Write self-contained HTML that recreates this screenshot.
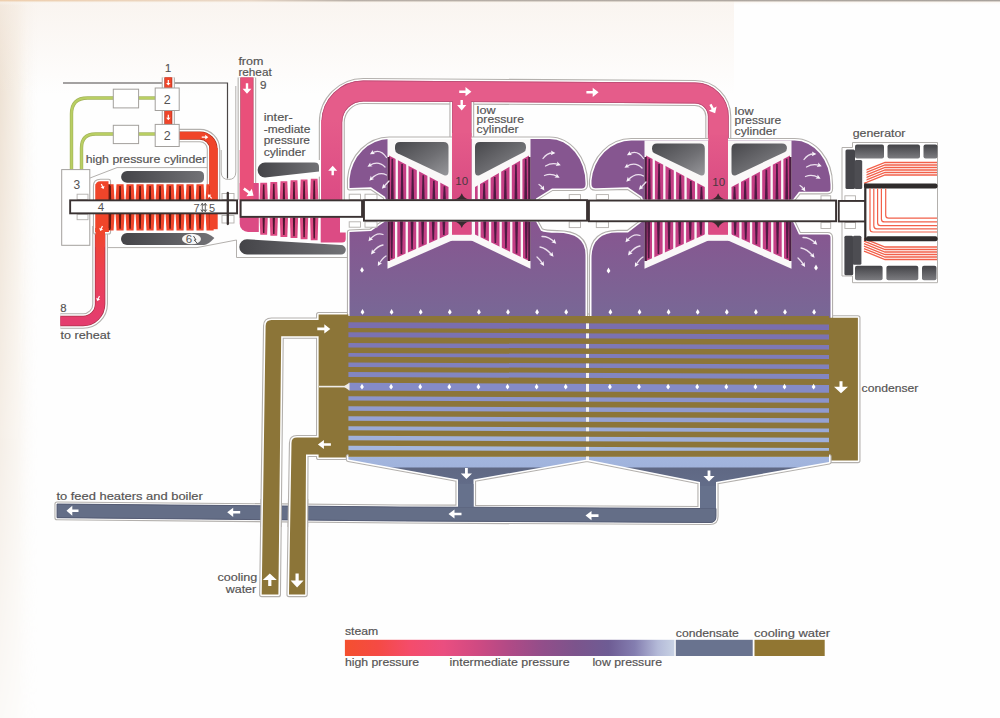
<!DOCTYPE html>
<html><head><meta charset="utf-8"><style>
html,body{margin:0;padding:0;background:#fefefe;}
body{width:1000px;height:718px;overflow:hidden;font-family:"Liberation Sans",sans-serif;}
svg{display:block;}
</style></head><body>
<svg width="1000" height="718" viewBox="0 0 1000 718" font-family="Liberation Sans, sans-serif">
<defs>
 <linearGradient id="bgL" x1="0" x2="1" y1="0" y2="0">
  <stop offset="0" stop-color="#ecdfd0"/><stop offset="0.45" stop-color="#f6efe6"/><stop offset="1" stop-color="#fefefe" stop-opacity="0"/>
 </linearGradient>
 <linearGradient id="bgLfade" x1="0" x2="0" y1="0" y2="1">
  <stop offset="0" stop-color="#fff" stop-opacity="1"/><stop offset="0.5" stop-color="#fff" stop-opacity="0.6"/><stop offset="1" stop-color="#fff" stop-opacity="0.15"/>
 </linearGradient>
 <mask id="mL"><rect x="0" y="0" width="40" height="718" fill="url(#bgLfade)"/></mask>
 <linearGradient id="bgT" x1="0" x2="0" y1="0" y2="1">
  <stop offset="0" stop-color="#f3e6d6"/><stop offset="1" stop-color="#fefefe" stop-opacity="0"/>
 </linearGradient>
 <linearGradient id="lpLow" gradientUnits="userSpaceOnUse" x1="0" x2="0" y1="228" y2="318">
  <stop offset="0" stop-color="#875690"/><stop offset="1" stop-color="#786896"/>
 </linearGradient>
 <linearGradient id="grey" x1="0" x2="1" y1="0" y2="1">
  <stop offset="0" stop-color="#47474b"/><stop offset="0.55" stop-color="#6e6e72"/><stop offset="1" stop-color="#97979b"/>
 </linearGradient>
 <linearGradient id="greyv" x1="0" x2="0" y1="0" y2="1">
  <stop offset="0" stop-color="#434347"/><stop offset="1" stop-color="#7c7c80"/>
 </linearGradient>
 <linearGradient id="greyh" x1="0" x2="1" y1="0" y2="0">
  <stop offset="0" stop-color="#444448"/><stop offset="1" stop-color="#727276"/>
 </linearGradient>
 <linearGradient id="redpink" gradientUnits="userSpaceOnUse" x1="0" x2="0" y1="230" y2="320">
  <stop offset="0" stop-color="#f0452a"/><stop offset="0.5" stop-color="#ec3f55"/><stop offset="1" stop-color="#e43d6e"/>
 </linearGradient>
 <linearGradient id="ipg" gradientUnits="userSpaceOnUse" x1="0" x2="0" y1="120" y2="200">
  <stop offset="0" stop-color="#e55c8a"/><stop offset="1" stop-color="#dc4b84"/>
 </linearGradient>
 <linearGradient id="chg" gradientUnits="userSpaceOnUse" x1="0" x2="0" y1="130" y2="200">
  <stop offset="0" stop-color="#e55c8a"/><stop offset="1" stop-color="#d84a82"/>
 </linearGradient>
 <linearGradient id="warm" x1="0" x2="0" y1="0" y2="1">
  <stop offset="0" stop-color="#f7eee6" stop-opacity="0.6"/><stop offset="1" stop-color="#f7eee6" stop-opacity="0"/>
 </linearGradient>
 <linearGradient id="topline" x1="0" x2="1" y1="0" y2="0">
  <stop offset="0" stop-color="#efcfae"/><stop offset="0.25" stop-color="#e9d8c8"/><stop offset="0.35" stop-color="#b9b0a8"/><stop offset="1" stop-color="#a8a29c"/>
 </linearGradient>
 <linearGradient id="legend" x1="0" x2="1" y1="0" y2="0">
  <stop offset="0" stop-color="#f4502f"/>
  <stop offset="0.1" stop-color="#f54a44"/>
  <stop offset="0.2" stop-color="#f44c6c"/>
  <stop offset="0.3" stop-color="#ea4e80"/>
  <stop offset="0.4" stop-color="#d04a82"/>
  <stop offset="0.5" stop-color="#b04a86"/>
  <stop offset="0.6" stop-color="#924e8a"/>
  <stop offset="0.7" stop-color="#7c548c"/>
  <stop offset="0.8" stop-color="#6e5c94"/>
  <stop offset="0.88" stop-color="#847eb0"/>
  <stop offset="0.95" stop-color="#b4bad8"/>
  <stop offset="1" stop-color="#c8d2e4"/>
 </linearGradient>
 <linearGradient id="hotU" gradientUnits="userSpaceOnUse" x1="0" x2="0" y1="456" y2="484">
  <stop offset="0" stop-color="#a3b6df"/><stop offset="0.38" stop-color="#a0b3dc"/><stop offset="0.44" stop-color="#5f6884"/><stop offset="1" stop-color="#626c88"/>
 </linearGradient>
</defs><rect x="0.00" y="0.00" width="1000.00" height="718.00" fill="#fefefe" />
<rect x="0" y="0" width="40" height="718" fill="url(#bgL)" mask="url(#mL)"/>
<rect x="0" y="0" width="734" height="95" fill="url(#warm)"/>
<rect x="0.00" y="0.00" width="1000.00" height="5.00" fill="url(#bgT)" />
<rect x="0" y="0" width="1000" height="1.4" fill="url(#topline)"/>
<path d="M63,83 H227.5 V178.5" fill="none" stroke="#4a4646" stroke-width="1.2"/>
<path d="M71.5,170 V114 Q71.5,98 87.5,98 H114" fill="none" stroke="#a3b45a" stroke-width="3.4"/>
<path d="M71.5,170 V114 Q71.5,98 87.5,98 H114" fill="none" stroke="#b9cf62" stroke-width="2.0"/>
<path d="M138,98 H156" fill="none" stroke="#a3b45a" stroke-width="3.4"/>
<path d="M138,98 H156" fill="none" stroke="#b9cf62" stroke-width="2.0"/>
<path d="M81.5,170 V148 Q81.5,134 95.5,134 H114" fill="none" stroke="#a3b45a" stroke-width="3.4"/>
<path d="M81.5,170 V148 Q81.5,134 95.5,134 H114" fill="none" stroke="#b9cf62" stroke-width="2.0"/>
<path d="M138,134 H156" fill="none" stroke="#a3b45a" stroke-width="3.4"/>
<path d="M138,134 H156" fill="none" stroke="#b9cf62" stroke-width="2.0"/>
<rect x="61.7" y="169.6" width="28.1" height="75.7" fill="#fff" stroke="#a3a09d" stroke-width="1"/>
<path d="M90,178 L117,167.6 H209" fill="none" stroke="#b3b0ad" stroke-width="1"/>
<path d="M106,247.6 H197 L236.5,240" fill="none" stroke="#b3b0ad" stroke-width="1"/>
<path d="M235.8,86 V172 Q235.8,179.5 228.5,179.5 Q221.2,179.5 221.2,172 V150" fill="none" stroke="#b3b0ad" stroke-width="1"/>
<path d="M236.5,240 V257.5 H347.5" fill="none" stroke="#b3b0ad" stroke-width="1"/>
<path d="M331.8,215 V122.5 A31.5,31.5 0 0 1 363.3,91 L695,93 A23.3,23.3 0 0 1 718.3,116.3 V190" fill="none" stroke="#b3b0ad" stroke-width="26.00" stroke-linejoin="round"/>
<path d="M331.8,215 V122.5 A31.5,31.5 0 0 1 363.3,91 L695,93 A23.3,23.3 0 0 1 718.3,116.3 V190" fill="none" stroke="#fff" stroke-width="23.80" stroke-linejoin="round"/>
<path d="M331.8,215 V122.5 A31.5,31.5 0 0 1 363.3,91 L695,93 A23.3,23.3 0 0 1 718.3,116.3 V190" fill="none" stroke="#e55c8a" stroke-width="20.8" stroke-linejoin="round"/>
<path d="M461.8,92 V190" fill="none" stroke="#b3b0ad" stroke-width="24.80" stroke-linejoin="round"/>
<path d="M461.8,92 V190" fill="none" stroke="#fff" stroke-width="22.60" stroke-linejoin="round"/>
<path d="M461.8,92 V190" fill="none" stroke="#b44c72" stroke-width="19.6" stroke-linejoin="round"/>
<path d="M461.8,92 V190" fill="none" stroke="#e55c8a" stroke-width="18.200000000000003" stroke-linejoin="round"/>
<path d="M331.8,215 V122.5 A31.5,31.5 0 0 1 363.3,91 L695,93 A23.3,23.3 0 0 1 718.3,116.3 V190" fill="none" stroke="#b44c72" stroke-width="20.8"/>
<path d="M331.8,215 V122.5 A31.5,31.5 0 0 1 363.3,91 L695,93 A23.3,23.3 0 0 1 718.3,116.3 V190" fill="none" stroke="#e55c8a" stroke-width="19.4"/>
<path d="M461.8,100 V190" fill="none" stroke="#e55c8a" stroke-width="18.2"/>
<path d="M246.9,77.4 V200" fill="none" stroke="#b3b0ad" stroke-width="18.60" stroke-linejoin="round"/>
<path d="M246.9,77.4 V200" fill="none" stroke="#fff" stroke-width="16.40" stroke-linejoin="round"/>
<path d="M246.9,77.4 V200" fill="none" stroke="#b84a66" stroke-width="13.4" stroke-linejoin="round"/>
<path d="M246.9,77.4 V200" fill="none" stroke="#e9507a" stroke-width="12.0" stroke-linejoin="round"/>
<path d="M100.1,226 V304 A17,17 0 0 1 83.1,321 H60.4" fill="none" stroke="#b3b0ad" stroke-width="15.70" stroke-linejoin="round"/>
<path d="M100.1,226 V304 A17,17 0 0 1 83.1,321 H60.4" fill="none" stroke="#fff" stroke-width="13.50" stroke-linejoin="round"/>
<path d="M100.1,226 V304 A17,17 0 0 1 83.1,321 H60.4" fill="none" stroke="#a8324a" stroke-width="10.5" stroke-linejoin="round"/>
<path d="M100.1,226 V304 A17,17 0 0 1 83.1,321 H60.4" fill="none" stroke="url(#redpink)" stroke-width="9.1" stroke-linejoin="round"/>
<path d="M168.3,77.4 V125" fill="none" stroke="#b3b0ad" stroke-width="13.20" stroke-linejoin="round"/>
<path d="M168.3,77.4 V125" fill="none" stroke="#fff" stroke-width="11.00" stroke-linejoin="round"/>
<path d="M168.3,77.4 V125" fill="none" stroke="#a8301f" stroke-width="8" stroke-linejoin="round"/>
<path d="M168.3,77.4 V125" fill="none" stroke="#f0452a" stroke-width="6.6" stroke-linejoin="round"/>
<path d="M179,135.55 H200 A13.5,13.5 0 0 1 213.5,149 V200" fill="none" stroke="#b3b0ad" stroke-width="13.50" stroke-linejoin="round"/>
<path d="M179,135.55 H200 A13.5,13.5 0 0 1 213.5,149 V200" fill="none" stroke="#fff" stroke-width="11.30" stroke-linejoin="round"/>
<path d="M179,135.55 H200 A13.5,13.5 0 0 1 213.5,149 V200" fill="none" stroke="#a8301f" stroke-width="8.3" stroke-linejoin="round"/>
<path d="M179,135.55 H200 A13.5,13.5 0 0 1 213.5,149 V200" fill="none" stroke="#f0452a" stroke-width="6.9" stroke-linejoin="round"/>
<path d="M95.5,232 V186 Q95.5,181.3 100.5,181.3 H108.5 V232 Z" fill="none" stroke="#b3b0ad" stroke-width="5.20" stroke-linejoin="round"/>
<path d="M95.5,232 V186 Q95.5,181.3 100.5,181.3 H108.5 V232 Z" fill="#fff" stroke="#fff" stroke-width="3.00" stroke-linejoin="round"/>
<path d="M95.5,232 V186 Q95.5,181.3 100.5,181.3 H108.5 V232 Z" fill="#f0452a" />
<path d="M106.50,184.20 H113.60 L114.50,200.00 H105.60 Z" fill="#f0452a"/>
<path d="M109.33,186.00 H110.77 L111.25,200.00 H108.85 Z" fill="#5e1a12"/>
<path d="M116.50,184.20 H123.60 L124.50,200.00 H115.60 Z" fill="#f0452a"/>
<path d="M119.33,186.00 H120.77 L121.25,200.00 H118.85 Z" fill="#5e1a12"/>
<path d="M126.50,184.20 H133.60 L134.50,200.00 H125.60 Z" fill="#f0452a"/>
<path d="M129.33,186.00 H130.77 L131.25,200.00 H128.85 Z" fill="#5e1a12"/>
<path d="M136.50,184.20 H143.60 L144.50,200.00 H135.60 Z" fill="#f0452a"/>
<path d="M139.33,186.00 H140.77 L141.25,200.00 H138.85 Z" fill="#5e1a12"/>
<path d="M146.50,184.20 H153.60 L154.50,200.00 H145.60 Z" fill="#f0452a"/>
<path d="M149.33,186.00 H150.77 L151.25,200.00 H148.85 Z" fill="#5e1a12"/>
<path d="M156.50,184.20 H163.60 L164.50,200.00 H155.60 Z" fill="#f0452a"/>
<path d="M159.33,186.00 H160.77 L161.25,200.00 H158.85 Z" fill="#5e1a12"/>
<path d="M166.50,184.20 H173.60 L174.50,200.00 H165.60 Z" fill="#f0452a"/>
<path d="M169.33,186.00 H170.77 L171.25,200.00 H168.85 Z" fill="#5e1a12"/>
<path d="M176.50,184.20 H183.60 L184.50,200.00 H175.60 Z" fill="#f0452a"/>
<path d="M179.33,186.00 H180.77 L181.25,200.00 H178.85 Z" fill="#5e1a12"/>
<path d="M186.50,184.20 H193.60 L194.50,200.00 H185.60 Z" fill="#f0452a"/>
<path d="M189.33,186.00 H190.77 L191.25,200.00 H188.85 Z" fill="#5e1a12"/>
<path d="M196.50,184.20 H203.60 L204.50,200.00 H195.60 Z" fill="#f0452a"/>
<path d="M199.33,186.00 H200.77 L201.25,200.00 H198.85 Z" fill="#5e1a12"/>
<path d="M206.50,184.20 H213.60 L214.50,200.00 H205.60 Z" fill="#f0452a"/>
<path d="M209.33,186.00 H210.77 L211.25,200.00 H208.85 Z" fill="#5e1a12"/>
<path d="M105.60,214.00 H114.50 L113.60,230.60 H106.50 Z" fill="#f0452a"/>
<path d="M108.85,214.00 H111.25 L110.77,228.80 H109.33 Z" fill="#5e1a12"/>
<path d="M115.60,214.00 H124.50 L123.60,230.60 H116.50 Z" fill="#f0452a"/>
<path d="M118.85,214.00 H121.25 L120.77,228.80 H119.33 Z" fill="#5e1a12"/>
<path d="M125.60,214.00 H134.50 L133.60,230.60 H126.50 Z" fill="#f0452a"/>
<path d="M128.85,214.00 H131.25 L130.77,228.80 H129.33 Z" fill="#5e1a12"/>
<path d="M135.60,214.00 H144.50 L143.60,230.60 H136.50 Z" fill="#f0452a"/>
<path d="M138.85,214.00 H141.25 L140.77,228.80 H139.33 Z" fill="#5e1a12"/>
<path d="M145.60,214.00 H154.50 L153.60,230.60 H146.50 Z" fill="#f0452a"/>
<path d="M148.85,214.00 H151.25 L150.77,228.80 H149.33 Z" fill="#5e1a12"/>
<path d="M155.60,214.00 H164.50 L163.60,230.60 H156.50 Z" fill="#f0452a"/>
<path d="M158.85,214.00 H161.25 L160.77,228.80 H159.33 Z" fill="#5e1a12"/>
<path d="M165.60,214.00 H174.50 L173.60,230.60 H166.50 Z" fill="#f0452a"/>
<path d="M168.85,214.00 H171.25 L170.77,228.80 H169.33 Z" fill="#5e1a12"/>
<path d="M175.60,214.00 H184.50 L183.60,230.60 H176.50 Z" fill="#f0452a"/>
<path d="M178.85,214.00 H181.25 L180.77,228.80 H179.33 Z" fill="#5e1a12"/>
<path d="M185.60,214.00 H194.50 L193.60,230.60 H186.50 Z" fill="#f0452a"/>
<path d="M188.85,214.00 H191.25 L190.77,228.80 H189.33 Z" fill="#5e1a12"/>
<path d="M195.60,214.00 H204.50 L203.60,230.60 H196.50 Z" fill="#f0452a"/>
<path d="M198.85,214.00 H201.25 L200.77,228.80 H199.33 Z" fill="#5e1a12"/>
<path d="M205.60,214.00 H214.50 L213.60,230.60 H206.50 Z" fill="#f0452a"/>
<path d="M208.85,214.00 H211.25 L210.77,228.80 H209.33 Z" fill="#5e1a12"/>
<rect x="95.50" y="184.00" width="13.10" height="16.00" fill="#f0452a" />
<rect x="95.50" y="214.00" width="13.10" height="18.00" fill="#f0452a" />
<rect x="108.60" y="184.50" width="1.80" height="15.50" fill="#5e1a12" />
<rect x="108.60" y="214.00" width="1.80" height="16.00" fill="#5e1a12" />
<rect x="209.30" y="148.00" width="8.40" height="81.20" fill="#f0452a" />
<rect x="95.50" y="228.00" width="9.50" height="19.00" fill="url(#redpink)" />
<rect x="95.50" y="228.00" width="13.00" height="4.00" fill="#f0452a" />
<path d="M209.3,229.2 H217.7 V229.2 Z" fill="#f0452a"/>
<path d="M127,171 H199 Q204,171 204,175.5 V178 Q204,182.8 199,182.8 H127 A5.9,5.9 0 0 1 127,171 Z" fill="url(#greyh)"/>
<path d="M127,233 H204 Q208,233 214.4,238 Q208,245 204,245 H127 A6,6 0 0 1 127,233 Z" fill="url(#greyh)"/>
<ellipse cx="191.5" cy="239" rx="9.5" ry="5.3" fill="#f6f6f6"/>
<path d="M239.7,183 H258.8 V232 H248 A8.3,8.3 0 0 1 239.7,223.7 Z" fill="#dc4b84"/>
<rect x="239.70" y="150.00" width="13.90" height="50.00" fill="#e9507a" />
<path d="M321.2,120 H340.2 V199.5 H321.2 Z" fill="url(#ipg)"/>
<path d="M320.7,217 H340 V232.6 H345.7 V239 A3.6,3.6 0 0 1 342.1,242.6 H320.7 Z" fill="#dc4b84"/>
<path d="M258.8,160 H320.7 V176.5 L258.8,183.5 Z" fill="#fff"/>
<path d="M265,162.6 H314.5 Q319,162.6 319,167 V171.6 L265,177.4 A7.4,7.4 0 0 1 265,162.6 Z" fill="url(#greyh)"/>
<path d="M247,239.2 L341,245 A4.8,4.8 0 0 1 341,254.6 H247 A7.7,7.7 0 0 1 247,239.2 Z" fill="url(#greyh)"/>
<path d="M260.30,182.80 H267.10 L267.80,199.50 H259.60 Z" fill="#dc4b84"/>
<path d="M263.01,184.60 H264.39 L264.85,199.50 H262.55 Z" fill="#4c1630"/>
<path d="M270.40,181.97 H277.20 L277.90,199.50 H269.70 Z" fill="#dc4b84"/>
<path d="M273.11,183.77 H274.49 L274.95,199.50 H272.65 Z" fill="#4c1630"/>
<path d="M280.50,181.14 H287.30 L288.00,199.50 H279.80 Z" fill="#dc4b84"/>
<path d="M283.21,182.94 H284.59 L285.05,199.50 H282.75 Z" fill="#4c1630"/>
<path d="M290.60,180.32 H297.40 L298.10,199.50 H289.90 Z" fill="#dc4b84"/>
<path d="M293.31,182.12 H294.69 L295.15,199.50 H292.85 Z" fill="#4c1630"/>
<path d="M300.70,179.49 H307.50 L308.20,199.50 H300.00 Z" fill="#dc4b84"/>
<path d="M303.41,181.29 H304.79 L305.25,199.50 H302.95 Z" fill="#4c1630"/>
<path d="M310.80,178.66 H317.60 L318.30,199.50 H310.10 Z" fill="#dc4b84"/>
<path d="M313.51,180.46 H314.89 L315.35,199.50 H313.05 Z" fill="#4c1630"/>
<path d="M259.60,217.50 H267.80 L267.10,234.70 H260.30 Z" fill="#dc4b84"/>
<path d="M262.55,217.50 H264.85 L264.39,232.90 H263.01 Z" fill="#4c1630"/>
<path d="M269.70,217.50 H277.90 L277.20,235.81 H270.40 Z" fill="#dc4b84"/>
<path d="M272.65,217.50 H274.95 L274.49,234.01 H273.11 Z" fill="#4c1630"/>
<path d="M279.80,217.50 H288.00 L287.30,236.92 H280.50 Z" fill="#dc4b84"/>
<path d="M282.75,217.50 H285.05 L284.59,235.12 H283.21 Z" fill="#4c1630"/>
<path d="M289.90,217.50 H298.10 L297.40,238.03 H290.60 Z" fill="#dc4b84"/>
<path d="M292.85,217.50 H295.15 L294.69,236.23 H293.31 Z" fill="#4c1630"/>
<path d="M300.00,217.50 H308.20 L307.50,239.14 H300.70 Z" fill="#dc4b84"/>
<path d="M302.95,217.50 H305.25 L304.79,237.34 H303.41 Z" fill="#4c1630"/>
<path d="M310.10,217.50 H318.30 L317.60,240.25 H310.80 Z" fill="#dc4b84"/>
<path d="M313.05,217.50 H315.35 L314.89,238.45 H313.51 Z" fill="#4c1630"/>
<path d="M318.6,314.5 H348.4 V316 H829 V317.8 H857.9 V460.6 H829 V458 H348.4 V457.5 H318.6 Z" fill="none" stroke="#b3b0ad" stroke-width="5.2" stroke-linejoin="round"/>
<path d="M261.7,594.6 L265.6,326 Q265.6,320 271.6,320 H322 V336.2 H281.2 L278.4,594.6 Z" fill="none" stroke="#b3b0ad" stroke-width="5.2" stroke-linejoin="round"/>
<path d="M289,594.6 L291.5,443 Q291.5,437.6 297,437.6 H322 V454.5 H306 L305.2,594.6 Z" fill="none" stroke="#b3b0ad" stroke-width="5.2" stroke-linejoin="round"/>
<path d="M318.6,314.5 H348.4 V316 H829 V317.8 H857.9 V460.6 H829 V458 H348.4 V457.5 H318.6 Z" fill="#fff" stroke="#fff" stroke-width="3" stroke-linejoin="round"/>
<path d="M261.7,594.6 L265.6,326 Q265.6,320 271.6,320 H322 V336.2 H281.2 L278.4,594.6 Z" fill="#fff" stroke="#fff" stroke-width="3" stroke-linejoin="round"/>
<path d="M289,594.6 L291.5,443 Q291.5,437.6 297,437.6 H322 V454.5 H306 L305.2,594.6 Z" fill="#fff" stroke="#fff" stroke-width="3" stroke-linejoin="round"/>
<path d="M349.5,188 V179 A40,44 0 0 1 389.5,139 H549.5 A36,44 0 0 1 585.5,183 V184.5 Q585.5,188.4 581.5,188.4 H552 L536,198.4 V199.5 H386 L385,196.7 L371,187.3 Z" fill="none" stroke="#b3b0ad" stroke-width="5.20" stroke-linejoin="round"/>
<path d="M349.5,188 V179 A40,44 0 0 1 389.5,139 H549.5 A36,44 0 0 1 585.5,183 V184.5 Q585.5,188.4 581.5,188.4 H552 L536,198.4 V199.5 H386 L385,196.7 L371,187.3 Z" fill="#fff" stroke="#fff" stroke-width="3.00" stroke-linejoin="round"/>
<path d="M349.5,188 V179 A40,44 0 0 1 389.5,139 H549.5 A36,44 0 0 1 585.5,183 V184.5 Q585.5,188.4 581.5,188.4 H552 L536,198.4 V199.5 H386 L385,196.7 L371,187.3 Z" fill="#865690" />
<path d="M349.5,320 V232 L371,231 L385,221.6 H536 L541,230.7 Q545,232.7 557,232.7 Q585.5,232.7 585.5,254.7 V320 Z" fill="none" stroke="#b3b0ad" stroke-width="5.20" stroke-linejoin="round"/>
<path d="M349.5,320 V232 L371,231 L385,221.6 H536 L541,230.7 Q545,232.7 557,232.7 Q585.5,232.7 585.5,254.7 V320 Z" fill="#fff" stroke="#fff" stroke-width="3.00" stroke-linejoin="round"/>
<path d="M349.5,320 V232 L371,231 L385,221.6 H536 L541,230.7 Q545,232.7 557,232.7 Q585.5,232.7 585.5,254.7 V320 Z" fill="url(#lpLow)" />
<path d="M387.5,139 H452 V199.5 H387.5 Z" fill="#faf8f8"/>
<path d="M471.5,139 H530.5 V199.5 H471.5 Z" fill="#faf8f8"/>
<path d="M400,142 H443.5 Q448.5,142 448.5,147 V171.5 Q448.5,176.5 444.0,175.2 L397.5,153.2 Q395,152 395,149 V147 Q395,142 400,142 Z" fill="url(#grey)"/>
<path d="M480.0,142 H521 Q526,142 526,147 V148 Q526,151 523.5,152.2 L479.5,175.2 Q475.0,176.5 475.0,171.5 V147 Q475.0,142 480.0,142 Z" fill="url(#grey)"/>
<path d="M389.00,155.50 L448.50,187.00 V199.5 H389.00 Z" fill="#c53f85"/>
<path d="M391.50,158.75 H393.10 L393.70,199.5 H390.90 Z" fill="#4e1a42"/>
<path d="M401.25,163.91 H402.85 L403.45,199.5 H400.65 Z" fill="#4e1a42"/>
<path d="M411.85,169.52 H413.45 L414.05,199.5 H411.25 Z" fill="#4e1a42"/>
<path d="M422.45,175.13 H424.05 L424.65,199.5 H421.85 Z" fill="#4e1a42"/>
<path d="M433.05,180.74 H434.65 L435.25,199.5 H432.45 Z" fill="#4e1a42"/>
<path d="M443.65,186.36 H445.25 L445.85,199.5 H443.05 Z" fill="#4e1a42"/>
<rect x="395.60" y="158.60" width="2.3" height="40.90" fill="#faf8f8"/>
<rect x="406.20" y="164.21" width="2.3" height="35.29" fill="#faf8f8"/>
<rect x="416.80" y="169.83" width="2.3" height="29.67" fill="#faf8f8"/>
<rect x="427.40" y="175.44" width="2.3" height="24.06" fill="#faf8f8"/>
<rect x="438.00" y="181.05" width="2.3" height="18.45" fill="#faf8f8"/>
<path d="M475.00,187.00 L529.00,155.50 V199.5 H475.00 Z" fill="#c53f85"/>
<path d="M524.90,158.92 H526.50 L527.10,199.5 H524.30 Z" fill="#4e1a42"/>
<path d="M515.15,164.61 H516.75 L517.35,199.5 H514.55 Z" fill="#4e1a42"/>
<path d="M504.55,170.80 H506.15 L506.75,199.5 H503.95 Z" fill="#4e1a42"/>
<path d="M493.95,176.98 H495.55 L496.15,199.5 H493.35 Z" fill="#4e1a42"/>
<path d="M483.35,183.16 H484.95 L485.55,199.5 H482.75 Z" fill="#4e1a42"/>
<rect x="520.10" y="159.02" width="2.3" height="40.48" fill="#faf8f8"/>
<rect x="509.50" y="165.20" width="2.3" height="34.30" fill="#faf8f8"/>
<rect x="498.90" y="171.39" width="2.3" height="28.11" fill="#faf8f8"/>
<rect x="488.30" y="177.57" width="2.3" height="21.93" fill="#faf8f8"/>
<rect x="477.70" y="183.75" width="2.3" height="15.75" fill="#faf8f8"/>
<rect x="387.50" y="157.00" width="2.30" height="42.50" fill="#4a1d40" />
<rect x="528.20" y="157.00" width="2.30" height="42.50" fill="#4a1d40" />
<path d="M387.5,221.6 H452 V240.5 L387.5,268.8 Z" fill="#faf8f8"/>
<path d="M471.5,221.6 H530.5 V268.8 L471.5,240.5 Z" fill="#faf8f8"/>
<path d="M389.00,221.6 H448.50 V234.50 L389.00,261.00 Z" fill="#c53f85"/>
<path d="M390.30,221.6 H393.10 L392.50,258.30 H390.90 Z" fill="#4e1a42"/>
<path d="M400.05,221.6 H402.85 L402.25,253.96 H400.65 Z" fill="#4e1a42"/>
<path d="M410.65,221.6 H413.45 L412.85,249.23 H411.25 Z" fill="#4e1a42"/>
<path d="M421.25,221.6 H424.05 L423.45,244.51 H421.85 Z" fill="#4e1a42"/>
<path d="M431.85,221.6 H434.65 L434.05,239.79 H432.45 Z" fill="#4e1a42"/>
<path d="M442.45,221.6 H445.25 L444.65,235.07 H443.05 Z" fill="#4e1a42"/>
<rect x="395.00" y="221.6" width="2.3" height="37.22" fill="#faf8f8"/>
<rect x="405.60" y="221.6" width="2.3" height="32.49" fill="#faf8f8"/>
<rect x="416.20" y="221.6" width="2.3" height="27.77" fill="#faf8f8"/>
<rect x="426.80" y="221.6" width="2.3" height="23.05" fill="#faf8f8"/>
<rect x="437.40" y="221.6" width="2.3" height="18.33" fill="#faf8f8"/>
<path d="M475.00,221.6 H529.00 V261.00 L475.00,234.50 Z" fill="#c53f85"/>
<path d="M524.90,221.6 H527.70 L527.10,258.18 H525.50 Z" fill="#4e1a42"/>
<path d="M515.15,221.6 H517.95 L517.35,253.39 H515.75 Z" fill="#4e1a42"/>
<path d="M504.55,221.6 H507.35 L506.75,248.19 H505.15 Z" fill="#4e1a42"/>
<path d="M493.95,221.6 H496.75 L496.15,242.99 H494.55 Z" fill="#4e1a42"/>
<path d="M483.35,221.6 H486.15 L485.55,237.78 H483.95 Z" fill="#4e1a42"/>
<rect x="520.70" y="221.6" width="2.3" height="36.89" fill="#faf8f8"/>
<rect x="510.10" y="221.6" width="2.3" height="31.69" fill="#faf8f8"/>
<rect x="499.50" y="221.6" width="2.3" height="26.49" fill="#faf8f8"/>
<rect x="488.90" y="221.6" width="2.3" height="21.29" fill="#faf8f8"/>
<rect x="478.30" y="221.6" width="2.3" height="16.08" fill="#faf8f8"/>
<rect x="387.50" y="221.60" width="2.30" height="39.40" fill="#4a1d40" />
<rect x="528.20" y="221.60" width="2.30" height="39.40" fill="#4a1d40" />
<rect x="452.00" y="133.00" width="19.50" height="66.50" fill="url(#chg)" />
<rect x="448.50" y="234.00" width="26.50" height="6.80" fill="#faf8f8" />
<rect x="452.00" y="221.60" width="19.50" height="13.20" fill="#dc4b84" />
<path d="M454.25,199.6 Q459.75,198.5 461.75,193.2 Q463.75,198.5 469.25,199.6 Z" fill="#3a2a30"/>
<path d="M454.25,221.5 Q459.75,222.6 461.75,227.9 Q463.75,222.6 469.25,221.5 Z" fill="#3a2a30"/>
<path d="M595.5,188.2 Q591.5,188.2 591.5,184.5 V180.6 A40,44 0 0 1 631.5,140.6 H794.5 A36,44 0 0 1 830.5,184.6 V189 Q830.5,191.8 827.5,191.8 H799 L793,199.5 H643 L642,196.7 L628,187.3 Z" fill="none" stroke="#b3b0ad" stroke-width="5.20" stroke-linejoin="round"/>
<path d="M595.5,188.2 Q591.5,188.2 591.5,184.5 V180.6 A40,44 0 0 1 631.5,140.6 H794.5 A36,44 0 0 1 830.5,184.6 V189 Q830.5,191.8 827.5,191.8 H799 L793,199.5 H643 L642,196.7 L628,187.3 Z" fill="#fff" stroke="#fff" stroke-width="3.00" stroke-linejoin="round"/>
<path d="M595.5,188.2 Q591.5,188.2 591.5,184.5 V180.6 A40,44 0 0 1 631.5,140.6 H794.5 A36,44 0 0 1 830.5,184.6 V189 Q830.5,191.8 827.5,191.8 H799 L793,199.5 H643 L642,196.7 L628,187.3 Z" fill="#865690" />
<path d="M591.5,320 V258.4 Q591.5,232.4 617.5,232.4 L628,232.4 L642,221.8 H793 L799,234.5 H827.5 Q830.5,234.5 830.5,237.5 V320 Z" fill="none" stroke="#b3b0ad" stroke-width="5.20" stroke-linejoin="round"/>
<path d="M591.5,320 V258.4 Q591.5,232.4 617.5,232.4 L628,232.4 L642,221.8 H793 L799,234.5 H827.5 Q830.5,234.5 830.5,237.5 V320 Z" fill="#fff" stroke="#fff" stroke-width="3.00" stroke-linejoin="round"/>
<path d="M591.5,320 V258.4 Q591.5,232.4 617.5,232.4 L628,232.4 L642,221.8 H793 L799,234.5 H827.5 Q830.5,234.5 830.5,237.5 V320 Z" fill="url(#lpLow)" />
<path d="M644.5,140.6 H708.3 V199.5 H644.5 Z" fill="#faf8f8"/>
<path d="M728,140.6 H791.5 V199.5 H728 Z" fill="#faf8f8"/>
<path d="M657,143.6 H699.8 Q704.8,143.6 704.8,148.6 V171.5 Q704.8,176.5 700.3,175.2 L654.5,153.2 Q652,152 652,149 V148.6 Q652,143.6 657,143.6 Z" fill="url(#grey)"/>
<path d="M736.5,143.6 H782 Q787,143.6 787,148.6 V148 Q787,151 784.5,152.2 L736.0,175.2 Q731.5,176.5 731.5,171.5 V148.6 Q731.5,143.6 736.5,143.6 Z" fill="url(#grey)"/>
<path d="M646.00,155.50 L704.80,187.00 V199.5 H646.00 Z" fill="#c53f85"/>
<path d="M648.50,158.77 H650.10 L650.70,199.5 H647.90 Z" fill="#4e1a42"/>
<path d="M658.25,163.99 H659.85 L660.45,199.5 H657.65 Z" fill="#4e1a42"/>
<path d="M668.85,169.67 H670.45 L671.05,199.5 H668.25 Z" fill="#4e1a42"/>
<path d="M679.45,175.35 H681.05 L681.65,199.5 H678.85 Z" fill="#4e1a42"/>
<path d="M690.05,181.03 H691.65 L692.25,199.5 H689.45 Z" fill="#4e1a42"/>
<path d="M700.65,186.71 H702.25 L702.85,199.5 H700.05 Z" fill="#4e1a42"/>
<rect x="652.60" y="158.65" width="2.3" height="40.85" fill="#faf8f8"/>
<rect x="663.20" y="164.33" width="2.3" height="35.17" fill="#faf8f8"/>
<rect x="673.80" y="170.01" width="2.3" height="29.49" fill="#faf8f8"/>
<rect x="684.40" y="175.69" width="2.3" height="23.81" fill="#faf8f8"/>
<rect x="695.00" y="181.37" width="2.3" height="18.13" fill="#faf8f8"/>
<path d="M731.50,187.00 L790.00,155.50 V199.5 H731.50 Z" fill="#c53f85"/>
<path d="M785.90,158.78 H787.50 L788.10,199.5 H785.30 Z" fill="#4e1a42"/>
<path d="M776.15,164.03 H777.75 L778.35,199.5 H775.55 Z" fill="#4e1a42"/>
<path d="M765.55,169.73 H767.15 L767.75,199.5 H764.95 Z" fill="#4e1a42"/>
<path d="M754.95,175.44 H756.55 L757.15,199.5 H754.35 Z" fill="#4e1a42"/>
<path d="M744.35,181.15 H745.95 L746.55,199.5 H743.75 Z" fill="#4e1a42"/>
<path d="M733.75,186.86 H735.35 L735.95,199.5 H733.15 Z" fill="#4e1a42"/>
<rect x="781.10" y="158.67" width="2.3" height="40.83" fill="#faf8f8"/>
<rect x="770.50" y="164.38" width="2.3" height="35.12" fill="#faf8f8"/>
<rect x="759.90" y="170.09" width="2.3" height="29.41" fill="#faf8f8"/>
<rect x="749.30" y="175.80" width="2.3" height="23.70" fill="#faf8f8"/>
<rect x="738.70" y="181.50" width="2.3" height="18.00" fill="#faf8f8"/>
<rect x="644.50" y="157.00" width="2.30" height="42.50" fill="#4a1d40" />
<rect x="789.20" y="157.00" width="2.30" height="42.50" fill="#4a1d40" />
<path d="M644.5,221.8 H708.3 V240.5 L644.5,268.8 Z" fill="#faf8f8"/>
<path d="M728,221.8 H791.5 V268.8 L728,240.5 Z" fill="#faf8f8"/>
<path d="M646.00,221.8 H704.80 V234.50 L646.00,261.00 Z" fill="#c53f85"/>
<path d="M647.30,221.8 H650.10 L649.50,258.28 H647.90 Z" fill="#4e1a42"/>
<path d="M657.05,221.8 H659.85 L659.25,253.89 H657.65 Z" fill="#4e1a42"/>
<path d="M667.65,221.8 H670.45 L669.85,249.11 H668.25 Z" fill="#4e1a42"/>
<path d="M678.25,221.8 H681.05 L680.45,244.33 H678.85 Z" fill="#4e1a42"/>
<path d="M688.85,221.8 H691.65 L691.05,239.56 H689.45 Z" fill="#4e1a42"/>
<path d="M699.45,221.8 H702.25 L701.65,234.78 H700.05 Z" fill="#4e1a42"/>
<rect x="652.00" y="221.8" width="2.3" height="36.98" fill="#faf8f8"/>
<rect x="662.60" y="221.8" width="2.3" height="32.20" fill="#faf8f8"/>
<rect x="673.20" y="221.8" width="2.3" height="27.42" fill="#faf8f8"/>
<rect x="683.80" y="221.8" width="2.3" height="22.65" fill="#faf8f8"/>
<rect x="694.40" y="221.8" width="2.3" height="17.87" fill="#faf8f8"/>
<path d="M731.50,221.8 H790.00 V261.00 L731.50,234.50 Z" fill="#c53f85"/>
<path d="M785.90,221.8 H788.70 L788.10,258.28 H786.50 Z" fill="#4e1a42"/>
<path d="M776.15,221.8 H778.95 L778.35,253.86 H776.75 Z" fill="#4e1a42"/>
<path d="M765.55,221.8 H768.35 L767.75,249.06 H766.15 Z" fill="#4e1a42"/>
<path d="M754.95,221.8 H757.75 L757.15,244.26 H755.55 Z" fill="#4e1a42"/>
<path d="M744.35,221.8 H747.15 L746.55,239.46 H744.95 Z" fill="#4e1a42"/>
<path d="M733.75,221.8 H736.55 L735.95,234.65 H734.35 Z" fill="#4e1a42"/>
<rect x="781.70" y="221.8" width="2.3" height="36.96" fill="#faf8f8"/>
<rect x="771.10" y="221.8" width="2.3" height="32.16" fill="#faf8f8"/>
<rect x="760.50" y="221.8" width="2.3" height="27.36" fill="#faf8f8"/>
<rect x="749.90" y="221.8" width="2.3" height="22.56" fill="#faf8f8"/>
<rect x="739.30" y="221.8" width="2.3" height="17.75" fill="#faf8f8"/>
<rect x="644.50" y="221.80" width="2.30" height="39.20" fill="#4a1d40" />
<rect x="789.20" y="221.80" width="2.30" height="39.20" fill="#4a1d40" />
<rect x="708.30" y="134.60" width="19.70" height="64.90" fill="url(#chg)" />
<rect x="704.80" y="234.00" width="26.70" height="6.80" fill="#faf8f8" />
<rect x="708.30" y="221.80" width="19.70" height="13.00" fill="#dc4b84" />
<path d="M710.65,199.6 Q716.15,198.5 718.15,193.2 Q720.15,198.5 725.65,199.6 Z" fill="#3a2a30"/>
<path d="M710.65,221.70000000000002 Q716.15,222.8 718.15,228.10000000000002 Q720.15,222.8 725.65,221.70000000000002 Z" fill="#3a2a30"/>
<path d="M261.7,594.6 L265.6,326 Q265.6,320 271.6,320 H322 V336.2 H281.2 L278.4,594.6 Z" fill="#8c7538"/>
<path d="M289,594.6 L291.5,443 Q291.5,437.6 297,437.6 H322 V454.5 H306 L305.2,594.6 Z" fill="#8c7538"/>
<path d="M318.6,314.5 H348.4 V316 H829 V317.8 H857.9 V460.6 H829 V458 H348.4 V457.5 H318.6 Z" fill="#8c7538"/>
<path d="M348.4,322.30 L829,324.46 V330.06 L348.4,327.90 Z" fill="#7a6eae"/>
<rect x="586" y="323.37" width="3" height="5.60" fill="#f4f2f0"/>
<path d="M348.4,332.30 L829,334.46 V339.46 L348.4,337.30 Z" fill="#7b72b2"/>
<rect x="586" y="333.37" width="3" height="5.00" fill="#f4f2f0"/>
<path d="M348.4,342.90 L829,345.06 V349.56 L348.4,347.40 Z" fill="#7e78b6"/>
<rect x="586" y="343.97" width="3" height="4.50" fill="#f4f2f0"/>
<path d="M348.4,352.90 L829,355.06 V358.96 L348.4,356.80 Z" fill="#7f7cba"/>
<rect x="586" y="353.97" width="3" height="3.90" fill="#f4f2f0"/>
<path d="M348.4,362.40 L829,364.56 V369.06 L348.4,366.90 Z" fill="#8181be"/>
<rect x="586" y="363.47" width="3" height="4.50" fill="#f4f2f0"/>
<path d="M348.4,371.90 L829,374.06 V379.06 L348.4,376.90 Z" fill="#8386c2"/>
<rect x="586" y="372.97" width="3" height="5.00" fill="#f4f2f0"/>
<path d="M348.4,382.80 L829,384.96 V392.76 L348.4,390.60 Z" fill="#858bc7"/>
<rect x="586" y="383.87" width="3" height="7.80" fill="#f4f2f0"/>
<path d="M348.4,396.20 L829,398.36 V402.76 L348.4,400.60 Z" fill="#8c94cc"/>
<rect x="586" y="397.27" width="3" height="4.40" fill="#f4f2f0"/>
<path d="M348.4,406.20 L829,408.36 V412.86 L348.4,410.70 Z" fill="#919bcf"/>
<rect x="586" y="407.27" width="3" height="4.50" fill="#f4f2f0"/>
<path d="M348.4,416.20 L829,418.36 V422.86 L348.4,420.70 Z" fill="#96a2d3"/>
<rect x="586" y="417.27" width="3" height="4.50" fill="#f4f2f0"/>
<path d="M348.4,426.30 L829,428.46 V432.36 L348.4,430.20 Z" fill="#9baad7"/>
<rect x="586" y="427.37" width="3" height="3.90" fill="#f4f2f0"/>
<path d="M348.4,435.70 L829,437.86 V442.36 L348.4,440.20 Z" fill="#a0b0da"/>
<rect x="586" y="436.77" width="3" height="4.50" fill="#f4f2f0"/>
<path d="M348.4,445.80 L829,447.96 V452.36 L348.4,450.20 Z" fill="#a5b7dd"/>
<rect x="586" y="446.87" width="3" height="4.40" fill="#f4f2f0"/>
<path d="M319,386.6 H346" stroke="#efece8" stroke-width="1.6"/>
<path d="M349.5,382.8 L343.5,386.6 L349.5,390.4 Z" fill="#efece8"/>
<path d="M348.4,456.5 H829 V462 L716,482 V516.5 Q716,522.5 710,522.5 L400,521 L57,517.7 V504 L400,507 L458,507.2 V479.5 L348.4,459.5 Z M473.5,479.5 L587,459.5 L700,482 V508.5 L473.5,507.4 Z" fill="none" stroke="#b3b0ad" stroke-width="5.2" stroke-linejoin="round"/>
<path d="M348.4,456.5 H829 V462 L716,482 V516.5 Q716,522.5 710,522.5 L400,521 L57,517.7 V504 L400,507 L458,507.2 V479.5 L348.4,459.5 Z M473.5,479.5 L587,459.5 L700,482 V508.5 L473.5,507.4 Z" fill="none" stroke="#fff" stroke-width="3" stroke-linejoin="round"/>
<path d="M348.4,456.5 H829 V462 L716,482 V516.5 Q716,522.5 710,522.5 L400,521 L57,517.7 V504 L400,507 L458,507.2 V479.5 L348.4,459.5 Z M473.5,479.5 L587,459.5 L700,482 V508.5 L473.5,507.4 Z" fill="url(#hotU)" fill-rule="evenodd"/>
<path d="M57,504 L400,507 L458,507.2 H473.5 L700,508.5 H716 V516.5 Q716,522.5 710,522.5 L400,521 L57,517.7 Z" fill="#646e87" stroke="#4f566e" stroke-width="0.9"/>
<rect x="458.00" y="484.00" width="15.50" height="23.50" fill="#66718c" />
<rect x="700.00" y="486.00" width="16.00" height="22.50" fill="#66718c" />
<rect x="348.40" y="450.80" width="480.60" height="6.00" fill="#8c7538" />
<rect x="586.00" y="456.50" width="3.00" height="3.50" fill="#f4f2f0" />
<clipPath id="cx"><rect x="240" y="499" width="90" height="28"/></clipPath>
<g clip-path="url(#cx)">
<path d="M261.7,594.6 L265.6,326 Q265.6,320 271.6,320 H322 V336.2 H281.2 L278.4,594.6 Z" fill="none" stroke="#b3b0ad" stroke-width="5.2" stroke-linejoin="round"/>
<path d="M261.7,594.6 L265.6,326 Q265.6,320 271.6,320 H322 V336.2 H281.2 L278.4,594.6 Z" fill="#fff" stroke="#fff" stroke-width="3" stroke-linejoin="round"/>
<path d="M261.7,594.6 L265.6,326 Q265.6,320 271.6,320 H322 V336.2 H281.2 L278.4,594.6 Z" fill="#8c7538"/>
<path d="M289,594.6 L291.5,443 Q291.5,437.6 297,437.6 H322 V454.5 H306 L305.2,594.6 Z" fill="none" stroke="#b3b0ad" stroke-width="5.2" stroke-linejoin="round"/>
<path d="M289,594.6 L291.5,443 Q291.5,437.6 297,437.6 H322 V454.5 H306 L305.2,594.6 Z" fill="#fff" stroke="#fff" stroke-width="3" stroke-linejoin="round"/>
<path d="M289,594.6 L291.5,443 Q291.5,437.6 297,437.6 H322 V454.5 H306 L305.2,594.6 Z" fill="#8c7538"/>
</g>
<path d="M842,276 V147.5 H852.5 V142.5 H937.5 V282.7 H852.5 V276 Z" fill="#fff" stroke="#b3b0ad" stroke-width="1"/>
<rect x="855" y="144.5" width="29" height="14" rx="2" fill="url(#greyv)"/>
<rect x="887.5" y="144.5" width="32.5" height="14" rx="2" fill="url(#greyv)"/>
<rect x="923.5" y="144.5" width="14.0" height="14" rx="2" fill="url(#greyv)"/>
<rect x="855" y="265.8" width="27.600000000000023" height="14.4" rx="2" fill="url(#greyv)"/>
<rect x="886.4" y="265.8" width="31.899999999999977" height="14.4" rx="2" fill="url(#greyv)"/>
<rect x="922" y="265.8" width="14.5" height="14.4" rx="2" fill="url(#greyv)"/>
<rect x="845.5" y="149.5" width="9.5" height="39.5" rx="1.5" fill="#45454a"/>
<rect x="854.6" y="160" width="7.6" height="29" rx="1.5" fill="#4d4d52"/>
<rect x="844.4" y="235.7" width="8.8" height="39.5" rx="1.5" fill="#45454a"/>
<rect x="852.8" y="235.7" width="8.6" height="29" rx="1.5" fill="#4d4d52"/>
<path d="M864,170.9 L885,162.5 H937" fill="none" stroke="#f2604a" stroke-width="1.3"/>
<path d="M864,173.4 L885,165.0 H937" fill="none" stroke="#f2604a" stroke-width="1.3"/>
<path d="M864,175.9 L885,167.5 H937" fill="none" stroke="#f2604a" stroke-width="1.3"/>
<path d="M864,178.4 L885,170.0 H937" fill="none" stroke="#f2604a" stroke-width="1.3"/>
<path d="M864,180.9 L885,172.5 H937" fill="none" stroke="#f2604a" stroke-width="1.3"/>
<path d="M864,183.4 L885,175.0 H937" fill="none" stroke="#f2604a" stroke-width="1.3"/>
<path d="M864,238.6 L885,247.0 H937" fill="none" stroke="#f2604a" stroke-width="1.3"/>
<path d="M864,241.1 L885,249.5 H937" fill="none" stroke="#f2604a" stroke-width="1.3"/>
<path d="M864,243.6 L885,252.0 H937" fill="none" stroke="#f2604a" stroke-width="1.3"/>
<path d="M864,246.1 L885,254.5 H937" fill="none" stroke="#f2604a" stroke-width="1.3"/>
<path d="M864,248.6 L885,257.0 H937" fill="none" stroke="#f2604a" stroke-width="1.3"/>
<path d="M864,251.1 L885,259.5 H937" fill="none" stroke="#f2604a" stroke-width="1.3"/>
<rect x="864.00" y="161.00" width="2.50" height="21.00" fill="#fff" />
<rect x="864" y="183.5" width="73.5" height="5" rx="2" fill="#2f2b2b"/>
<rect x="866" y="236.3" width="71.5" height="5" rx="2" fill="#2f2b2b"/>
<rect x="864.20" y="183.50" width="2.20" height="57.50" fill="#2f2b2b" />
<path d="M870,188.5 V229 Q870,232 873,232 H937" fill="none" stroke="#f2604a" stroke-width="1.2"/>
<path d="M873.8,188.5 V225.8 Q873.8,228.8 876.8,228.8 H937" fill="none" stroke="#f2604a" stroke-width="1.2"/>
<path d="M877.6,188.5 V222.7 Q877.6,225.7 880.6,225.7 H937" fill="none" stroke="#f2604a" stroke-width="1.2"/>
<path d="M881.4,188.5 V218.9 Q881.4,221.9 884.4,221.9 H937" fill="none" stroke="#f2604a" stroke-width="1.2"/>
<path d="M885.7,188.5 V215.2 Q885.7,218.2 888.7,218.2 H937" fill="none" stroke="#f2604a" stroke-width="1.2"/>
<rect x="77.1" y="194.2" width="10.90" height="5.30" fill="#fff" stroke="#b3b0ad" stroke-width="0.9"/>
<rect x="77.1" y="214.3" width="10.90" height="5.40" fill="#fff" stroke="#b3b0ad" stroke-width="0.9"/>
<rect x="349.2" y="194.2" width="11.30" height="5.30" fill="#fff" stroke="#b3b0ad" stroke-width="0.9"/>
<rect x="365" y="194.2" width="12.00" height="5.30" fill="#fff" stroke="#b3b0ad" stroke-width="0.9"/>
<rect x="349.2" y="221.8" width="11.30" height="5.40" fill="#fff" stroke="#b3b0ad" stroke-width="0.9"/>
<rect x="365" y="221.8" width="12.00" height="5.40" fill="#fff" stroke="#b3b0ad" stroke-width="0.9"/>
<rect x="569.2" y="194.6" width="11.30" height="4.90" fill="#fff" stroke="#b3b0ad" stroke-width="0.9"/>
<rect x="596.3" y="194.6" width="12.20" height="4.90" fill="#fff" stroke="#b3b0ad" stroke-width="0.9"/>
<rect x="569.2" y="221.8" width="11.30" height="5.80" fill="#fff" stroke="#b3b0ad" stroke-width="0.9"/>
<rect x="596.3" y="221.8" width="12.20" height="5.80" fill="#fff" stroke="#b3b0ad" stroke-width="0.9"/>
<rect x="821" y="195.8" width="9.70" height="4.70" fill="#fff" stroke="#b3b0ad" stroke-width="0.9"/>
<rect x="844.9" y="195.8" width="10.60" height="4.70" fill="#fff" stroke="#b3b0ad" stroke-width="0.9"/>
<rect x="821" y="222.5" width="9.70" height="6.00" fill="#fff" stroke="#b3b0ad" stroke-width="0.9"/>
<rect x="844.9" y="222.5" width="10.60" height="6.00" fill="#fff" stroke="#b3b0ad" stroke-width="0.9"/>
<rect x="222" y="193.5" width="12.00" height="6.00" fill="#fff" stroke="#b3b0ad" stroke-width="0.9"/>
<rect x="222" y="215.5" width="12.00" height="7.50" fill="#fff" stroke="#b3b0ad" stroke-width="0.9"/>
<rect x="70.15" y="200.35" width="166.90" height="13.00" fill="#fff" stroke="#3a3232" stroke-width="1.9"/>
<rect x="240.65" y="200.35" width="121.40" height="16.50" fill="#fff" stroke="#3a3232" stroke-width="1.9"/>
<rect x="363.95" y="200.15" width="223.10" height="20.50" fill="#fff" stroke="#3a3232" stroke-width="1.9"/>
<rect x="588.95" y="200.55" width="247.10" height="20.70" fill="#fff" stroke="#3a3232" stroke-width="1.9"/>
<rect x="838.75" y="200.95" width="26.30" height="20.50" fill="#fff" stroke="#3a3232" stroke-width="1.9"/>
<path d="M227.8,193 V224" stroke="#3a3232" stroke-width="2.3" stroke-linecap="round"/>
<rect x="113.3" y="89.2" width="25.30" height="18.70" fill="#fff" stroke="#a3a09d" stroke-width="1"/>
<rect x="113.3" y="125.3" width="25.30" height="18.30" fill="#fff" stroke="#a3a09d" stroke-width="1"/>
<rect x="155.2" y="88" width="24.00" height="22.50" fill="#fff" stroke="#a3a09d" stroke-width="1"/>
<rect x="155.2" y="124.4" width="24.00" height="22.10" fill="#fff" stroke="#a3a09d" stroke-width="1"/>
<path d="M-2.75,-0.60 H0.15 V-2.20 L2.75,0 L0.15,2.20 V0.60 H-2.75 Z" fill="#ffffff" transform="translate(168.3,82.8) rotate(90)"/>
<path d="M-2.75,-0.60 H0.15 V-2.20 L2.75,0 L0.15,2.20 V0.60 H-2.75 Z" fill="#ffffff" transform="translate(168.3,117.5) rotate(90)"/>
<path d="M-3.25,-0.60 H0.25 V-2.40 L3.25,0 L0.25,2.40 V0.60 H-3.25 Z" fill="#ffffff" transform="translate(205,137.2) rotate(0)"/>
<path d="M-5.25,-1.20 H0.05 V-4.40 L5.25,0 L0.05,4.40 V1.20 H-5.25 Z" fill="#ffffff" transform="translate(247,88.6) rotate(90)"/>
<path d="M-4.75,-1.20 H-0.25 V-4.50 L4.75,0 L-0.25,4.50 V1.20 H-4.75 Z" fill="#ffffff" transform="translate(332.7,170.5) rotate(270)"/>
<path d="M-6.00,-1.30 H0.50 V-4.60 L6.00,0 L0.50,4.60 V1.30 H-6.00 Z" fill="#ffffff" transform="translate(248.7,192.2) rotate(36)"/>
<path d="M-6.10,-1.20 H0.20 V-4.60 L6.10,0 L0.20,4.60 V1.20 H-6.10 Z" fill="#ffffff" transform="translate(465.3,91.7) rotate(0)"/>
<path d="M-5.25,-1.20 H-0.25 V-4.60 L5.25,0 L-0.25,4.60 V1.20 H-5.25 Z" fill="#ffffff" transform="translate(461.7,105.3) rotate(90)"/>
<path d="M-6.10,-1.20 H0.20 V-4.60 L6.10,0 L0.20,4.60 V1.20 H-6.10 Z" fill="#ffffff" transform="translate(592.5,92.3) rotate(0)"/>
<path d="M-5.00,-1.20 H-0.20 V-4.40 L5.00,0 L-0.20,4.40 V1.20 H-5.00 Z" fill="#ffffff" transform="translate(712.8,108.8) rotate(62)"/>
<path d="M-2.75,-0.60 H0.15 V-2.20 L2.75,0 L0.15,2.20 V0.60 H-2.75 Z" fill="#ffffff" transform="translate(102.5,186.5) rotate(65)"/>
<path d="M-2.75,-0.60 H0.15 V-2.20 L2.75,0 L0.15,2.20 V0.60 H-2.75 Z" fill="#ffffff" transform="translate(101.3,228.5) rotate(115)"/>
<path d="M-2.75,-0.60 H0.15 V-2.20 L2.75,0 L0.15,2.20 V0.60 H-2.75 Z" fill="#ffffff" transform="translate(209.8,196.5) rotate(225)"/>
<path d="M-2.75,-0.60 H0.15 V-2.20 L2.75,0 L0.15,2.20 V0.60 H-2.75 Z" fill="#ffffff" transform="translate(98.3,298.5) rotate(115)"/>
<path d="M-6.50,-1.30 H0.50 V-4.60 L6.50,0 L0.50,4.60 V1.30 H-6.50 Z" fill="#ffffff" transform="translate(323.8,328.9) rotate(0)"/>
<path d="M-6.50,-1.30 H0.50 V-4.60 L6.50,0 L0.50,4.60 V1.30 H-6.50 Z" fill="#ffffff" transform="translate(324.4,444.5) rotate(180)"/>
<path d="M-6.00,-1.50 H-0.50 V-7.00 L6.00,0 L-0.50,7.00 V1.50 H-6.00 Z" fill="#ffffff" transform="translate(841,387.3) rotate(90)"/>
<path d="M-6.00,-1.30 H0.20 V-5.00 L6.00,0 L0.20,5.00 V1.30 H-6.00 Z" fill="#ffffff" transform="translate(72.5,510.7) rotate(180)"/>
<path d="M-6.50,-1.30 H0.50 V-4.60 L6.50,0 L0.50,4.60 V1.30 H-6.50 Z" fill="#ffffff" transform="translate(233.7,512.3) rotate(180)"/>
<path d="M-6.50,-1.30 H0.50 V-4.60 L6.50,0 L0.50,4.60 V1.30 H-6.50 Z" fill="#ffffff" transform="translate(455,514) rotate(180)"/>
<path d="M-6.50,-1.30 H0.50 V-4.60 L6.50,0 L0.50,4.60 V1.30 H-6.50 Z" fill="#ffffff" transform="translate(592,515.6) rotate(180)"/>
<path d="M-5.50,-1.40 H0.00 V-5.60 L5.50,0 L0.00,5.60 V1.40 H-5.50 Z" fill="#ffffff" transform="translate(466.4,473.6) rotate(90)"/>
<path d="M-5.50,-1.40 H0.00 V-5.60 L5.50,0 L0.00,5.60 V1.40 H-5.50 Z" fill="#ffffff" transform="translate(709,476) rotate(90)"/>
<path d="M-6.25,-1.60 H-0.25 V-7.00 L6.25,0 L-0.25,7.00 V1.60 H-6.25 Z" fill="#ffffff" transform="translate(269.8,579.8) rotate(270)"/>
<path d="M-7.00,-1.60 H0.00 V-6.50 L7.00,0 L0.00,6.50 V1.60 H-7.00 Z" fill="#ffffff" transform="translate(297.1,580.6) rotate(90)"/>
<path d="M362.5,308.90000000000003 L364.4,312.3 L362.5,314.7 L360.6,312.3 Z" fill="#ffffff"/>
<path d="M362.0,383.70000000000005 L363.9,387.1 L362.0,389.5 L360.1,387.1 Z" fill="#ffffff"/>
<path d="M391.6,308.90000000000003 L393.5,312.3 L391.6,314.7 L389.70000000000005,312.3 Z" fill="#ffffff"/>
<path d="M391.1,383.70000000000005 L393.0,387.1 L391.1,389.5 L389.20000000000005,387.1 Z" fill="#ffffff"/>
<path d="M420.7,308.90000000000003 L422.59999999999997,312.3 L420.7,314.7 L418.8,312.3 Z" fill="#ffffff"/>
<path d="M420.2,383.70000000000005 L422.09999999999997,387.1 L420.2,389.5 L418.3,387.1 Z" fill="#ffffff"/>
<path d="M449.8,308.90000000000003 L451.7,312.3 L449.8,314.7 L447.90000000000003,312.3 Z" fill="#ffffff"/>
<path d="M449.3,383.70000000000005 L451.2,387.1 L449.3,389.5 L447.40000000000003,387.1 Z" fill="#ffffff"/>
<path d="M478.9,308.90000000000003 L480.79999999999995,312.3 L478.9,314.7 L477.0,312.3 Z" fill="#ffffff"/>
<path d="M478.4,383.70000000000005 L480.29999999999995,387.1 L478.4,389.5 L476.5,387.1 Z" fill="#ffffff"/>
<path d="M508.0,308.90000000000003 L509.9,312.3 L508.0,314.7 L506.1,312.3 Z" fill="#ffffff"/>
<path d="M507.5,383.70000000000005 L509.4,387.1 L507.5,389.5 L505.6,387.1 Z" fill="#ffffff"/>
<path d="M537.1,308.90000000000003 L539.0,312.3 L537.1,314.7 L535.2,312.3 Z" fill="#ffffff"/>
<path d="M536.6,383.70000000000005 L538.5,387.1 L536.6,389.5 L534.7,387.1 Z" fill="#ffffff"/>
<path d="M566.2,308.90000000000003 L568.1,312.3 L566.2,314.7 L564.3000000000001,312.3 Z" fill="#ffffff"/>
<path d="M565.7,383.70000000000005 L567.6,387.1 L565.7,389.5 L563.8000000000001,387.1 Z" fill="#ffffff"/>
<path d="M610.4,308.90000000000003 L612.3,312.3 L610.4,314.7 L608.5,312.3 Z" fill="#ffffff"/>
<path d="M609.9,383.70000000000005 L611.8,387.1 L609.9,389.5 L608.0,387.1 Z" fill="#ffffff"/>
<path d="M639.5,308.90000000000003 L641.4,312.3 L639.5,314.7 L637.6,312.3 Z" fill="#ffffff"/>
<path d="M639.0,383.70000000000005 L640.9,387.1 L639.0,389.5 L637.1,387.1 Z" fill="#ffffff"/>
<path d="M668.6,308.90000000000003 L670.5,312.3 L668.6,314.7 L666.7,312.3 Z" fill="#ffffff"/>
<path d="M668.1,383.70000000000005 L670.0,387.1 L668.1,389.5 L666.2,387.1 Z" fill="#ffffff"/>
<path d="M697.7,308.90000000000003 L699.6,312.3 L697.7,314.7 L695.8000000000001,312.3 Z" fill="#ffffff"/>
<path d="M697.2,383.70000000000005 L699.1,387.1 L697.2,389.5 L695.3000000000001,387.1 Z" fill="#ffffff"/>
<path d="M726.8,308.90000000000003 L728.6999999999999,312.3 L726.8,314.7 L724.9,312.3 Z" fill="#ffffff"/>
<path d="M726.3,383.70000000000005 L728.1999999999999,387.1 L726.3,389.5 L724.4,387.1 Z" fill="#ffffff"/>
<path d="M755.9,308.90000000000003 L757.8,312.3 L755.9,314.7 L754.0,312.3 Z" fill="#ffffff"/>
<path d="M755.4,383.70000000000005 L757.3,387.1 L755.4,389.5 L753.5,387.1 Z" fill="#ffffff"/>
<path d="M785.0,308.90000000000003 L786.9,312.3 L785.0,314.7 L783.1,312.3 Z" fill="#ffffff"/>
<path d="M784.5,383.70000000000005 L786.4,387.1 L784.5,389.5 L782.6,387.1 Z" fill="#ffffff"/>
<path d="M814.1,308.90000000000003 L816.0,312.3 L814.1,314.7 L812.2,312.3 Z" fill="#ffffff"/>
<path d="M813.6,383.70000000000005 L815.5,387.1 L813.6,389.5 L811.7,387.1 Z" fill="#ffffff"/>
<path d="M362,266.90000000000003 L363.9,270.3 L362,272.7 L360.1,270.3 Z" fill="#ffffff"/>
<path d="M608.5,267.6 L610.4,271 L608.5,273.4 L606.6,271 Z" fill="#ffffff"/>
<path d="M816,264.6 L817.9,268 L816,270.4 L814.1,268 Z" fill="#ffffff"/>
<path d="M386.5,157.5 Q380.2,148.2 372,153" fill="none" stroke="#ece0ee" stroke-width="1.3" stroke-linecap="round"/>
<path d="M-2.2,-2.3 L2.4,0 L-2.2,2.3 L-1.2,0 Z" fill="#f8f4fa" transform="translate(372,153) rotate(150)"/>
<path d="M385,167 Q378.2,160.2 369.5,165.5" fill="none" stroke="#ece0ee" stroke-width="1.3" stroke-linecap="round"/>
<path d="M-2.2,-2.3 L2.4,0 L-2.2,2.3 L-1.2,0 Z" fill="#f8f4fa" transform="translate(369.5,165.5) rotate(149)"/>
<path d="M386.5,175 Q378.8,171.0 371,179" fill="none" stroke="#ece0ee" stroke-width="1.3" stroke-linecap="round"/>
<path d="M-2.2,-2.3 L2.4,0 L-2.2,2.3 L-1.2,0 Z" fill="#f8f4fa" transform="translate(371,179) rotate(134)"/>
<path d="M389,181 Q387.2,183.0 383.5,187" fill="none" stroke="#ece0ee" stroke-width="1.3" stroke-linecap="round"/>
<path d="M-2.2,-2.3 L2.4,0 L-2.2,2.3 L-1.2,0 Z" fill="#f8f4fa" transform="translate(383.5,187) rotate(133)"/>
<path d="M383,234.5 Q376.5,232.0 370,239.5" fill="none" stroke="#ece0ee" stroke-width="1.3" stroke-linecap="round"/>
<path d="M-2.2,-2.3 L2.4,0 L-2.2,2.3 L-1.2,0 Z" fill="#f8f4fa" transform="translate(370,239.5) rotate(131)"/>
<path d="M383,245 Q377.8,245.8 372.5,252.5" fill="none" stroke="#ece0ee" stroke-width="1.3" stroke-linecap="round"/>
<path d="M-2.2,-2.3 L2.4,0 L-2.2,2.3 L-1.2,0 Z" fill="#f8f4fa" transform="translate(372.5,252.5) rotate(128)"/>
<path d="M386,256 Q382.5,258.0 379,264" fill="none" stroke="#ece0ee" stroke-width="1.3" stroke-linecap="round"/>
<path d="M-2.2,-2.3 L2.4,0 L-2.2,2.3 L-1.2,0 Z" fill="#f8f4fa" transform="translate(379,264) rotate(120)"/>
<path d="M543,158.5 Q547.0,152.8 553,153" fill="none" stroke="#ece0ee" stroke-width="1.3" stroke-linecap="round"/>
<path d="M-2.2,-2.3 L2.4,0 L-2.2,2.3 L-1.2,0 Z" fill="#f8f4fa" transform="translate(553,153) rotate(2)"/>
<path d="M545.5,166 Q552.0,162.2 558.5,164.5" fill="none" stroke="#ece0ee" stroke-width="1.3" stroke-linecap="round"/>
<path d="M-2.2,-2.3 L2.4,0 L-2.2,2.3 L-1.2,0 Z" fill="#f8f4fa" transform="translate(558.5,164.5) rotate(19)"/>
<path d="M544.5,175.5 Q551.0,173.0 557.5,176.5" fill="none" stroke="#ece0ee" stroke-width="1.3" stroke-linecap="round"/>
<path d="M-2.2,-2.3 L2.4,0 L-2.2,2.3 L-1.2,0 Z" fill="#f8f4fa" transform="translate(557.5,176.5) rotate(28)"/>
<path d="M539,184.5 Q541.0,185.5 543,188.5" fill="none" stroke="#ece0ee" stroke-width="1.3" stroke-linecap="round"/>
<path d="M-2.2,-2.3 L2.4,0 L-2.2,2.3 L-1.2,0 Z" fill="#f8f4fa" transform="translate(543,188.5) rotate(56)"/>
<path d="M542,236.5 Q548.2,236.2 554.5,242" fill="none" stroke="#ece0ee" stroke-width="1.3" stroke-linecap="round"/>
<path d="M-2.2,-2.3 L2.4,0 L-2.2,2.3 L-1.2,0 Z" fill="#f8f4fa" transform="translate(554.5,242) rotate(43)"/>
<path d="M540,247 Q546.0,248.0 552,255" fill="none" stroke="#ece0ee" stroke-width="1.3" stroke-linecap="round"/>
<path d="M-2.2,-2.3 L2.4,0 L-2.2,2.3 L-1.2,0 Z" fill="#f8f4fa" transform="translate(552,255) rotate(49)"/>
<path d="M537,257 Q539.9,259.5 542.8,264" fill="none" stroke="#ece0ee" stroke-width="1.3" stroke-linecap="round"/>
<path d="M-2.2,-2.3 L2.4,0 L-2.2,2.3 L-1.2,0 Z" fill="#f8f4fa" transform="translate(542.8,264) rotate(57)"/>
<path d="M643.5,158.5 Q637.2,149.2 629,154" fill="none" stroke="#ece0ee" stroke-width="1.3" stroke-linecap="round"/>
<path d="M-2.2,-2.3 L2.4,0 L-2.2,2.3 L-1.2,0 Z" fill="#f8f4fa" transform="translate(629,154) rotate(150)"/>
<path d="M642,168 Q635.2,161.2 626.5,166.5" fill="none" stroke="#ece0ee" stroke-width="1.3" stroke-linecap="round"/>
<path d="M-2.2,-2.3 L2.4,0 L-2.2,2.3 L-1.2,0 Z" fill="#f8f4fa" transform="translate(626.5,166.5) rotate(149)"/>
<path d="M643.5,176 Q635.8,172.0 628,180" fill="none" stroke="#ece0ee" stroke-width="1.3" stroke-linecap="round"/>
<path d="M-2.2,-2.3 L2.4,0 L-2.2,2.3 L-1.2,0 Z" fill="#f8f4fa" transform="translate(628,180) rotate(134)"/>
<path d="M646,182 Q644.2,184.0 640.5,188" fill="none" stroke="#ece0ee" stroke-width="1.3" stroke-linecap="round"/>
<path d="M-2.2,-2.3 L2.4,0 L-2.2,2.3 L-1.2,0 Z" fill="#f8f4fa" transform="translate(640.5,188) rotate(133)"/>
<path d="M640,235.5 Q633.5,233.0 627,240.5" fill="none" stroke="#ece0ee" stroke-width="1.3" stroke-linecap="round"/>
<path d="M-2.2,-2.3 L2.4,0 L-2.2,2.3 L-1.2,0 Z" fill="#f8f4fa" transform="translate(627,240.5) rotate(131)"/>
<path d="M640,246 Q634.8,246.8 629.5,253.5" fill="none" stroke="#ece0ee" stroke-width="1.3" stroke-linecap="round"/>
<path d="M-2.2,-2.3 L2.4,0 L-2.2,2.3 L-1.2,0 Z" fill="#f8f4fa" transform="translate(629.5,253.5) rotate(128)"/>
<path d="M643,257 Q639.5,259.0 636,265" fill="none" stroke="#ece0ee" stroke-width="1.3" stroke-linecap="round"/>
<path d="M-2.2,-2.3 L2.4,0 L-2.2,2.3 L-1.2,0 Z" fill="#f8f4fa" transform="translate(636,265) rotate(120)"/>
<path d="M804,159.5 Q808.0,153.8 814,154" fill="none" stroke="#ece0ee" stroke-width="1.3" stroke-linecap="round"/>
<path d="M-2.2,-2.3 L2.4,0 L-2.2,2.3 L-1.2,0 Z" fill="#f8f4fa" transform="translate(814,154) rotate(2)"/>
<path d="M806.5,167 Q813.0,163.2 819.5,165.5" fill="none" stroke="#ece0ee" stroke-width="1.3" stroke-linecap="round"/>
<path d="M-2.2,-2.3 L2.4,0 L-2.2,2.3 L-1.2,0 Z" fill="#f8f4fa" transform="translate(819.5,165.5) rotate(19)"/>
<path d="M805.5,176.5 Q812.0,174.0 818.5,177.5" fill="none" stroke="#ece0ee" stroke-width="1.3" stroke-linecap="round"/>
<path d="M-2.2,-2.3 L2.4,0 L-2.2,2.3 L-1.2,0 Z" fill="#f8f4fa" transform="translate(818.5,177.5) rotate(28)"/>
<path d="M800,185.5 Q802.0,186.5 804,189.5" fill="none" stroke="#ece0ee" stroke-width="1.3" stroke-linecap="round"/>
<path d="M-2.2,-2.3 L2.4,0 L-2.2,2.3 L-1.2,0 Z" fill="#f8f4fa" transform="translate(804,189.5) rotate(56)"/>
<path d="M803,237.5 Q809.2,237.2 815.5,243" fill="none" stroke="#ece0ee" stroke-width="1.3" stroke-linecap="round"/>
<path d="M-2.2,-2.3 L2.4,0 L-2.2,2.3 L-1.2,0 Z" fill="#f8f4fa" transform="translate(815.5,243) rotate(43)"/>
<path d="M801,248 Q807.0,249.0 813,256" fill="none" stroke="#ece0ee" stroke-width="1.3" stroke-linecap="round"/>
<path d="M-2.2,-2.3 L2.4,0 L-2.2,2.3 L-1.2,0 Z" fill="#f8f4fa" transform="translate(813,256) rotate(49)"/>
<path d="M798,258 Q800.9,260.5 803.8,265" fill="none" stroke="#ece0ee" stroke-width="1.3" stroke-linecap="round"/>
<path d="M-2.2,-2.3 L2.4,0 L-2.2,2.3 L-1.2,0 Z" fill="#f8f4fa" transform="translate(803.8,265) rotate(57)"/>
<text x="165.1" y="72.4" font-size="11.6" text-anchor="start" fill="#555353" stroke="#555353" stroke-width="0.18" textLength="6.2" lengthAdjust="spacingAndGlyphs">1</text>
<text x="167.2" y="103.6" font-size="12.5" text-anchor="middle" fill="#555353" >2</text>
<text x="167.2" y="139.9" font-size="12.5" text-anchor="middle" fill="#555353" >2</text>
<text x="76.8" y="188.8" font-size="12" text-anchor="middle" fill="#555353" >3</text>
<text x="101" y="211.3" font-size="11.5" text-anchor="middle" fill="#555353" >4</text>
<text x="196.5" y="212.4" font-size="11" text-anchor="middle" fill="#555353" >7</text>
<text x="212" y="212.4" font-size="11" text-anchor="middle" fill="#555353" >5</text>
<path d="M202.3,203.5 V211.5 M205.3,203.5 V211.5" stroke="#555353" stroke-width="0.9"/>
<path d="M200.8,205.5 L202.3,203.2 L203.8,205.5 M200.8,209.5 L202.3,211.8 L203.8,209.5 M203.8,205.5 L205.3,203.2 L206.8,205.5 M203.8,209.5 L205.3,211.8 L206.8,209.5" fill="none" stroke="#555353" stroke-width="0.9"/>
<text x="189" y="243.2" font-size="11.5" text-anchor="middle" fill="#555353" >6</text>
<path d="M193.5,236 L196,240 L194.2,240 L197.5,243.5" fill="none" stroke="#555353" stroke-width="1"/>
<text x="85.7" y="162.8" font-size="11.6" text-anchor="start" fill="#555353" stroke="#555353" stroke-width="0.18" textLength="120.5" lengthAdjust="spacingAndGlyphs">high pressure cylinder</text>
<text x="238.4" y="65" font-size="11.6" text-anchor="start" fill="#555353" stroke="#555353" stroke-width="0.18" textLength="25.0" lengthAdjust="spacingAndGlyphs">from</text>
<text x="238.4" y="75.7" font-size="11.6" text-anchor="start" fill="#555353" stroke="#555353" stroke-width="0.18" textLength="33.3" lengthAdjust="spacingAndGlyphs">reheat</text>
<text x="259.9" y="89" font-size="11.6" text-anchor="start" fill="#555353" stroke="#555353" stroke-width="0.18" textLength="6.5" lengthAdjust="spacingAndGlyphs">9</text>
<text x="263.7" y="121.2" font-size="11.6" text-anchor="start" fill="#555353" stroke="#555353" stroke-width="0.18" textLength="29.0" lengthAdjust="spacingAndGlyphs">inter-</text>
<text x="263.7" y="132.9" font-size="11.6" text-anchor="start" fill="#555353" stroke="#555353" stroke-width="0.18" textLength="46.7" lengthAdjust="spacingAndGlyphs">-mediate</text>
<text x="263.7" y="144.3" font-size="11.6" text-anchor="start" fill="#555353" stroke="#555353" stroke-width="0.18" textLength="46.3" lengthAdjust="spacingAndGlyphs">pressure</text>
<text x="263.7" y="155.7" font-size="11.6" text-anchor="start" fill="#555353" stroke="#555353" stroke-width="0.18" textLength="42.0" lengthAdjust="spacingAndGlyphs">cylinder</text>
<text x="476.6" y="113.6" font-size="11.6" text-anchor="start" fill="#555353" stroke="#555353" stroke-width="0.18" textLength="18.9" lengthAdjust="spacingAndGlyphs">low</text>
<text x="476.6" y="122.8" font-size="11.6" text-anchor="start" fill="#555353" stroke="#555353" stroke-width="0.18" textLength="47.3" lengthAdjust="spacingAndGlyphs">pressure</text>
<text x="476.6" y="132.5" font-size="11.6" text-anchor="start" fill="#555353" stroke="#555353" stroke-width="0.18" textLength="42.0" lengthAdjust="spacingAndGlyphs">cylinder</text>
<text x="734.6" y="115" font-size="11.6" text-anchor="start" fill="#555353" stroke="#555353" stroke-width="0.18" textLength="18.9" lengthAdjust="spacingAndGlyphs">low</text>
<text x="734.6" y="124.3" font-size="11.6" text-anchor="start" fill="#555353" stroke="#555353" stroke-width="0.18" textLength="46.6" lengthAdjust="spacingAndGlyphs">pressure</text>
<text x="734.6" y="135" font-size="11.6" text-anchor="start" fill="#555353" stroke="#555353" stroke-width="0.18" textLength="42.0" lengthAdjust="spacingAndGlyphs">cylinder</text>
<text x="461.7" y="184.5" font-size="11.5" text-anchor="middle" fill="#4a3840" >10</text>
<text x="718.7" y="186.3" font-size="11.5" text-anchor="middle" fill="#4a3840" >10</text>
<text x="852.7" y="137.4" font-size="11.6" text-anchor="start" fill="#555353" stroke="#555353" stroke-width="0.18" textLength="52.8" lengthAdjust="spacingAndGlyphs">generator</text>
<text x="861.6" y="391.8" font-size="11.6" text-anchor="start" fill="#555353" stroke="#555353" stroke-width="0.18" textLength="56.7" lengthAdjust="spacingAndGlyphs">condenser</text>
<text x="60.2" y="312.3" font-size="11.6" text-anchor="start" fill="#555353" stroke="#555353" stroke-width="0.18" textLength="6.3" lengthAdjust="spacingAndGlyphs">8</text>
<text x="60.6" y="338.6" font-size="11.6" text-anchor="start" fill="#555353" stroke="#555353" stroke-width="0.18" textLength="49.7" lengthAdjust="spacingAndGlyphs">to reheat</text>
<text x="56.4" y="499.7" font-size="11.6" text-anchor="start" fill="#555353" stroke="#555353" stroke-width="0.18" textLength="146.4" lengthAdjust="spacingAndGlyphs">to feed heaters and boiler</text>
<text x="217.4" y="581.2" font-size="11.6" text-anchor="start" fill="#555353" stroke="#555353" stroke-width="0.18" textLength="39.9" lengthAdjust="spacingAndGlyphs">cooling</text>
<text x="225.7" y="592.5" font-size="11.6" text-anchor="start" fill="#555353" stroke="#555353" stroke-width="0.18" textLength="30.5" lengthAdjust="spacingAndGlyphs">water</text>
<rect x="344.90" y="639.80" width="329.50" height="16.20" fill="url(#legend)" />
<rect x="675.80" y="639.80" width="76.90" height="16.20" fill="#69738f" />
<rect x="754.50" y="639.80" width="70.20" height="16.20" fill="#917632" />
<text x="344.9" y="634.8" font-size="11.6" text-anchor="start" fill="#555353" stroke="#555353" stroke-width="0.18" textLength="33.3" lengthAdjust="spacingAndGlyphs">steam</text>
<text x="344.9" y="665.9" font-size="11.6" text-anchor="start" fill="#555353" stroke="#555353" stroke-width="0.18" textLength="74.3" lengthAdjust="spacingAndGlyphs">high pressure</text>
<text x="449.6" y="666" font-size="11.6" text-anchor="start" fill="#555353" stroke="#555353" stroke-width="0.18" textLength="120.0" lengthAdjust="spacingAndGlyphs">intermediate pressure</text>
<text x="592.4" y="666" font-size="11.6" text-anchor="start" fill="#555353" stroke="#555353" stroke-width="0.18" textLength="69.6" lengthAdjust="spacingAndGlyphs">low pressure</text>
<text x="675.8" y="637.1" font-size="11.6" text-anchor="start" fill="#555353" stroke="#555353" stroke-width="0.18" textLength="63.0" lengthAdjust="spacingAndGlyphs">condensate</text>
<text x="754" y="637.1" font-size="11.6" text-anchor="start" fill="#555353" stroke="#555353" stroke-width="0.18" textLength="76.1" lengthAdjust="spacingAndGlyphs">cooling water</text></svg>
</body></html>
